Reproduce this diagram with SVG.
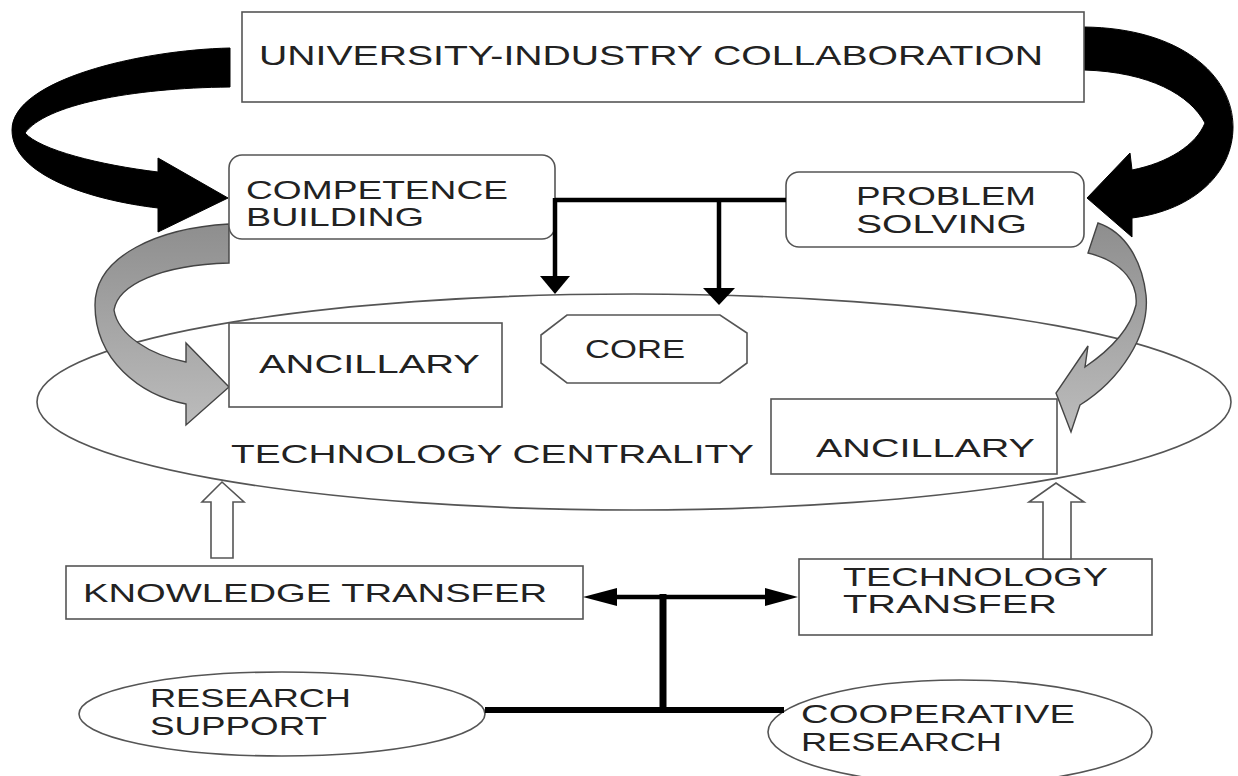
<svg xmlns="http://www.w3.org/2000/svg" width="1238" height="776" viewBox="0 0 1238 776">
  <defs>
    <style>
      .box { fill: #fff; stroke: #555; stroke-width: 1.6; }
      .lbl { font-family: "Liberation Sans", Arial, sans-serif; font-size: 25px; fill: #222; }
      .wire { fill: none; stroke: #000; stroke-width: 4.5; }
      .hollow { fill: #fff; stroke: #555; stroke-width: 1.6; }
      .curl { fill: #000; stroke: #000; stroke-width: 1; }
      .grey { stroke: #444; stroke-width: 1.4; }
    </style>
    <linearGradient id="greyFill" x1="0" y1="0" x2="0" y2="1">
      <stop offset="0" stop-color="#8e8e8e"/>
      <stop offset="1" stop-color="#bcbcbc"/>
    </linearGradient>
  </defs>

  <!-- central technology ellipse -->
  <g id="technology-centrality">
    <ellipse cx="634" cy="402" rx="597" ry="108" class="box" stroke-width="1.8"/>
    <text class="lbl" x="231" y="463" textLength="523" lengthAdjust="spacingAndGlyphs">TECHNOLOGY CENTRALITY</text>
  </g>

  <!-- curved grey arrows (drawn beneath the black ones) -->
  <g id="grey-arrows">
    <path class="grey" fill="url(#greyFill)" d="M229,224 C160,228 95,255 95,305 C95,360 140,395 186,404 L186,425 L229,387 L186,343 L186,362 C150,355 118,335 114,310 C118,285 160,265 229,263 Z"/>
    <path class="grey" fill="url(#greyFill)" d="M1098,223 C1125,232 1142,260 1146,295 C1150,335 1120,380 1080,405 L1071,432 L1056,393 L1088,346 L1085,367 C1110,350 1130,330 1136,305 C1138,285 1125,262 1088,253 Z"/>
  </g>

  <!-- curved black arrows from the collaboration box -->
  <g id="black-arrows">
    <path class="curl" d="M230,48 C140,50 12,80 12,130 C12,175 90,200 158,208 L158,232 L228,198 L158,158 L158,172 C100,165 40,150 25,133 C45,105 130,88 230,87 Z"/>
    <path class="curl" d="M1084,27 C1180,28 1233,75 1233,127 C1233,172 1195,210 1132,218 L1132,237 L1087,198 L1130,153 L1132,170 C1168,163 1196,145 1205,123 C1190,95 1150,72 1084,70 Z"/>
  </g>

  <g id="collaboration">
    <rect x="242" y="12" width="842" height="90" class="box"/>
    <text class="lbl" style="font-size:28px" x="259" y="65" textLength="784" lengthAdjust="spacingAndGlyphs">UNIVERSITY-INDUSTRY COLLABORATION</text>
  </g>

  <g id="competence-building">
    <rect x="229" y="155" width="326" height="84" rx="13" class="box"/>
    <text class="lbl" x="246" y="199" textLength="262" lengthAdjust="spacingAndGlyphs">COMPETENCE</text>
    <text class="lbl" x="246" y="226" textLength="178" lengthAdjust="spacingAndGlyphs">BUILDING</text>
  </g>

  <g id="problem-solving">
    <rect x="786" y="172" width="298" height="75" rx="13" class="box"/>
    <text class="lbl" x="856" y="205" textLength="180" lengthAdjust="spacingAndGlyphs">PROBLEM</text>
    <text class="lbl" x="856" y="233" textLength="171" lengthAdjust="spacingAndGlyphs">SOLVING</text>
  </g>

  <g id="core">
    <polygon points="567,315 720,315 747,333 747,363 720,383 567,383 541,363 541,335" class="box"/>
    <text class="lbl" x="585" y="358" textLength="100" lengthAdjust="spacingAndGlyphs">CORE</text>
  </g>

  <g id="ancillary-left">
    <rect x="229" y="323" width="273" height="84" class="box"/>
    <text class="lbl" x="259" y="373" textLength="221" lengthAdjust="spacingAndGlyphs">ANCILLARY</text>
  </g>

  <g id="ancillary-right">
    <rect x="771" y="399" width="286" height="75" class="box"/>
    <text class="lbl" x="816" y="457" textLength="219" lengthAdjust="spacingAndGlyphs">ANCILLARY</text>
  </g>

  <g id="knowledge-transfer">
    <rect x="66" y="566" width="517" height="53" class="box"/>
    <text class="lbl" x="83" y="602" textLength="464" lengthAdjust="spacingAndGlyphs">KNOWLEDGE TRANSFER</text>
  </g>

  <g id="technology-transfer">
    <rect x="799" y="559" width="353" height="76" class="box"/>
    <text class="lbl" x="843" y="586" textLength="265" lengthAdjust="spacingAndGlyphs">TECHNOLOGY</text>
    <text class="lbl" x="843" y="613" textLength="214" lengthAdjust="spacingAndGlyphs">TRANSFER</text>
  </g>

  <g id="research-support">
    <ellipse cx="282" cy="714" rx="203" ry="42" class="box"/>
    <text class="lbl" x="150" y="707" textLength="201" lengthAdjust="spacingAndGlyphs">RESEARCH</text>
    <text class="lbl" x="150" y="735" textLength="177" lengthAdjust="spacingAndGlyphs">SUPPORT</text>
  </g>

  <g id="cooperative-research">
    <ellipse cx="960" cy="732" rx="192" ry="52" class="box"/>
    <text class="lbl" x="801" y="723" textLength="274" lengthAdjust="spacingAndGlyphs">COOPERATIVE</text>
    <text class="lbl" x="801" y="751" textLength="201" lengthAdjust="spacingAndGlyphs">RESEARCH</text>
  </g>

  <!-- connectors -->
  <g id="connectors">
    <!-- problem solving / competence building feeding the core -->
    <path class="wire" d="M555,200 H786"/>
    <path class="wire" d="M555,198 V277"/>
    <polygon points="540,276 570,276 555,294" fill="#000"/>
    <path class="wire" d="M719,200 V288"/>
    <polygon points="703,288 735,288 719,305" fill="#000"/>

    <!-- hollow arrows up into the ellipse -->
    <polygon class="hollow" points="211,558 211,502 202,502 222,482 244,502 233,502 233,558"/>
    <polygon class="hollow" points="1043,559 1043,502 1029,502 1056,483 1084,502 1071,502 1071,559"/>

    <!-- transfer links -->
    <path class="wire" d="M600,597 H782"/>
    <polygon points="583,597 617,588 617,606" fill="#000"/>
    <polygon points="798,597 765,588 765,606" fill="#000"/>
    <path class="wire" style="stroke-width:7" d="M663,594 V713"/>
    <path class="wire" style="stroke-width:6" d="M485,710 H784"/>
  </g>
</svg>
